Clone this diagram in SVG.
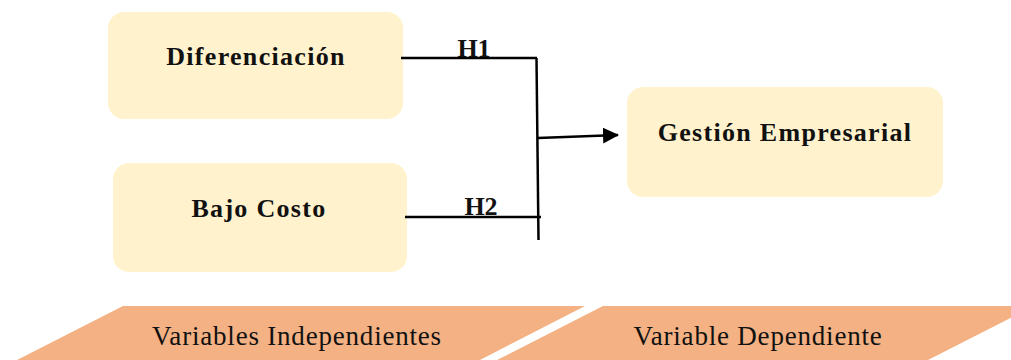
<svg xmlns="http://www.w3.org/2000/svg" width="1011" height="360" viewBox="0 0 1011 360">
<style>
.node{fill:#FFF2CC;}
.lbl{font-family:"Liberation Serif",serif;font-weight:bold;font-size:26px;letter-spacing:1.3px;fill:#111;text-anchor:middle;}
.h{font-family:"Liberation Serif",serif;font-weight:bold;font-size:26px;fill:#111;text-anchor:middle;}
.band{fill:#F4B183;}
.bl{font-family:"Liberation Serif",serif;font-size:27px;letter-spacing:0.8px;fill:#111;text-anchor:middle;}
.ln{stroke:#000;stroke-width:2.5;fill:none;}
</style>
<defs>
<marker id="ah" markerWidth="16" markerHeight="16" refX="15" refY="8" orient="auto" markerUnits="userSpaceOnUse">
<path d="M0,0 L16,8 L0,16 Z" fill="#000"/>
</marker>
</defs>
<g id="bands">
<polygon class="band" points="123,306 585,306 480,360 17,360"/>
<polygon class="band" points="603,306 1034,306 928,360 497,360"/>
<text class="bl" x="297" y="345">Variables Independientes</text>
<text class="bl" x="758" y="345">Variable Dependiente</text>
</g>
<g id="diferenciacion">
<rect class="node" x="108" y="12" width="295" height="107" rx="16"/>
<text class="lbl" x="256" y="65">Diferenciación</text>
</g>
<g id="bajo-costo">
<rect class="node" x="113" y="163" width="294" height="109" rx="16"/>
<text class="lbl" x="259" y="217">Bajo Costo</text>
</g>
<g id="gestion">
<rect class="node" x="627" y="87" width="316" height="110" rx="16"/>
<text class="lbl" x="785" y="141">Gestión Empresarial</text>
</g>
<g id="connectors">
<line class="ln" x1="401" y1="58" x2="537" y2="58"/>
<line class="ln" x1="405" y1="217" x2="541" y2="217"/>
<line class="ln" x1="536.5" y1="58" x2="538.5" y2="240"/>
<line class="ln" x1="538" y1="138" x2="618" y2="135" marker-end="url(#ah)"/>
<text class="h" x="474" y="57">H1</text>
<text class="h" x="481" y="215">H2</text>
</g>
</svg>
